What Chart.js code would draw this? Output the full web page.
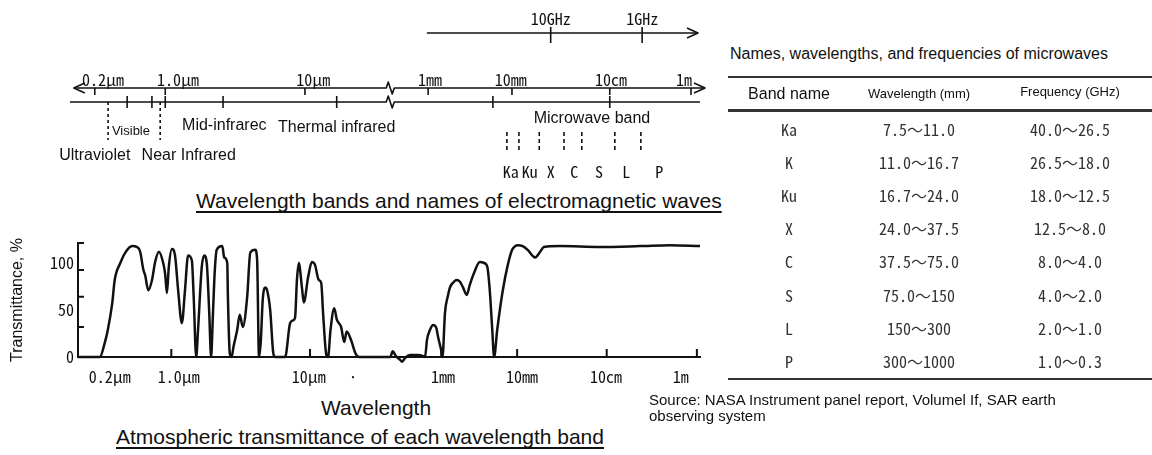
<!DOCTYPE html>
<html>
<head>
<meta charset="utf-8">
<title>Electromagnetic wave bands and atmospheric transmittance</title>
<script src="https://cdn.jsdelivr.net/npm/chart.js@4.4.1/dist/chart.umd.min.js"></script>
<style>
  html, body { margin: 0; padding: 0; background: #fff; }
  #page { position: relative; width: 1152px; height: 455px; overflow: hidden; color: #111;
          font-family: "Liberation Sans", Arial, sans-serif; }
  .abs { position: absolute; white-space: nowrap; }
  .title { font-size: 21px; line-height: 24px; text-decoration: underline; text-decoration-skip-ink: none;
           text-decoration-thickness: 2px; text-underline-offset: 3px; }
  #spectrum { position: absolute; left: 0; top: 0; }
  #trans { position: absolute; left: 0; top: 225px; }
  #bandTable { position: absolute; left: 728px; top: 76px; width: 424px;
               border-top: 2px solid #333; border-bottom: 2px solid #333; }
  .row { display: flex; height: 33.2px; align-items: center; }
  .row > div { text-align: center; }
  .head { height: 31px; border-bottom: 3px solid #333; color: #111; }
  .c1 { width: 122px; } .c2 { width: 138px; } .c3 { width: 164px; }
  .cell { font-family: "Noto Sans Mono CJK JP", "Noto Sans CJK JP", monospace; font-size: 16px; color: #333; }
</style>
</head>
<body>
<div id="page">
  <canvas id="spectrum" width="730" height="186"></canvas>
  <div class="abs title" style="left:196px; top:189px">Wavelength bands and names of electromagnetic waves</div>

  <canvas id="trans" width="730" height="170"></canvas>
  <div class="abs" style="left:321px; top:396px; font-size:21px; line-height:24px">Wavelength</div>
  <div class="abs title" style="left:116px; top:425px">Atmospheric transmittance of each wavelength band</div>

  <div class="abs" style="left:730px; top:44px; font-size:16px; line-height:19px">Names, wavelengths, and frequencies of microwaves</div>
  <div id="bandTable"></div>
  <div class="abs" style="left:649px; top:392px; font-size:15px; line-height:16px">Source: NASA Instrument panel report, Volumel If, SAR earth<br>observing system</div>
</div>

<script>
// =============================================================================
// Wavelength bands / atmospheric transmittance / microwave band table
// =============================================================================

const INK = "#111";
const CJK = '"Noto Sans Mono CJK JP", "Noto Sans CJK JP", monospace';
const SANS = '"Liberation Sans", Arial, sans-serif';

// ---------------------------------------------------------------------------
// Data: transmittance curve (x = position along the printed wavelength axis, 0-100)
// ---------------------------------------------------------------------------
const transPos = [
  0, 3.5, 4.3, 4.8, 5.5, 5.9, 6.8, 7.6, 8.7, 9.5, 10.0, 10.5, 10.8, 11.3, 11.9, 12.4,
  13.0, 13.7, 14.0, 14.3, 14.6, 15.1, 15.6, 16.1, 16.7, 17.2, 17.7, 18.3, 18.6, 19.0,
  19.3, 19.9, 20.3, 20.7, 21.1, 21.4, 21.7, 22.0, 22.3, 23.2, 23.5, 24.0, 24.1, 24.4,
  24.7, 25.0, 25.6, 26.0, 26.5, 27.2, 27.7, 28.5, 28.8, 29.1, 29.4, 29.7, 30.1, 30.4,
  30.9, 31.4, 31.7, 33.3, 34.1, 34.6, 34.9, 35.2, 35.5, 36.0, 36.3, 37.0, 37.6, 38.1,
  38.7, 39.1, 39.4, 39.9, 40.2, 40.6, 41.2, 41.6, 42.3, 42.8, 43.2, 43.9, 44.6, 45.2,
  50.2, 50.6, 51.1, 51.8, 52.1, 52.6, 53.4, 54.7, 55.5, 55.8, 56.1, 56.6, 57.1, 57.6,
  57.9, 58.4, 58.6, 59.0, 59.5, 59.8, 60.6, 60.9, 61.4, 61.9, 62.5, 63.0, 63.7, 64.6,
  65.3, 65.8, 66.2, 66.6, 66.9, 67.4, 68.3, 69.1, 69.8, 70.3, 70.7, 71.5, 72.3, 73.5,
  74.3, 74.9, 77.5, 83.9, 90.4, 95.2, 100
];
const transPct = [
  0, 0, 15, 29, 57, 82, 100, 111, 118, 117, 112, 93, 87, 71, 82, 101,
  112, 100, 89, 68, 96, 115, 108, 71, 36, 71, 108, 103, 64, 0,
  29, 96, 108, 100, 47, 0, 47, 93, 114, 118, 106, 100, 64, 4,
  0, 11, 29, 45, 32, 64, 111, 114, 103, 0, 18, 61, 74, 71,
  50, 4, 0, 0, 36, 39, 42, 82, 100, 74, 58, 85, 101, 98,
  82, 79, 47, 3, 0, 29, 52, 40, 32, 16, 27, 18, 4, 0,
  0, 6, 1, -3, -5, -1, 2, 2, 1, 0, 18, 29, 34, 31,
  21, 7, 0, 47, 66, 74, 81, 82, 80, 74, 66, 77, 90, 101,
  100, 96, 71, 29, 0, 29, 71, 98, 114, 118, 119, 118, 114, 106,
  112, 117, 118, 117, 118, 119, 118
];

const axisLabels = ["0.2μm", "1.0μm", "10μm", "·", "1mm", "10mm", "10cm", "1m"];
const axisLabelPos = [5.1, 16.2, 37.1, 44.2, 58.7, 71.4, 84.9, 96.9];
const axisTickPos = [15.0, 37.3, 58.4, 70.6, 85.0, 99.5];
const pctLabels = [0, 50, 100];
const pctTickMarks = [32, 64, 92.5, 121.3];
const pctMax = 121.3;

// ---------------------------------------------------------------------------
// Data: spectrum diagram (x = position along the diagram axis, 0-100)
// ---------------------------------------------------------------------------
const freqLabels = ["10GHz", "1GHz"];
const freqPos = [75.7, 90.1];
const freqSpan = [56.2, 98.9];

const spanLabels = ["0.2μm", "1.0μm", "10μm", "1mm", "10mm", "10cm", "1m"];
const spanLabelPos = [5.2, 17.0, 38.3, 56.7, 69.4, 85.2, 96.7];
const spanTickPos = [3.9, 15.0, 37.0, 56.4, 69.6, 85.0, 97.8];
const upperSpan = [0.6, 100];
const lowerSpan = [0, 99.2];
const axisBreakPos = 49.8;

const bandEdgePos = [9.0, 12.9, 15.0, 24.1, 42.0, 66.6, 85.0];
const visibleEdgePos = [6.0, 14.2];
const regionNames = ["Ultraviolet", "Visible", "Near Infrared", "Mid-infrarec", "Thermal infrared", "Microwave band"];
const regionPos = [3.9, 9.6, 18.7, 24.3, 42.0, 82.2];

const mwLetters = ["Ka", "Ku", "X", "C", "S", "L", "P"];
const mwLetterPos = [69.4, 72.4, 75.7, 79.4, 83.3, 87.6, 92.8];
const mwMarkPos = [68.8, 70.7, 73.9, 77.8, 80.6, 85.8, 89.9];

// ---------------------------------------------------------------------------
// Data: microwave band table
// ---------------------------------------------------------------------------
const bandNames = ["Ka", "K", "Ku", "X", "C", "S", "L", "P"];
const bandWavelength = ["7.5～11.0", "11.0～16.7", "16.7～24.0", "24.0～37.5", "37.5～75.0", "75.0～150", "150～300", "300～1000"];
const bandFrequency = ["40.0～26.5", "26.5～18.0", "18.0～12.5", "12.5～8.0", "8.0～4.0", "4.0～2.0", "2.0～1.0", "1.0～0.3"];

Chart.defaults.font.family = SANS;
Chart.defaults.color = INK;

// ---------------------------------------------------------------------------
// Spectrum diagram (drawn on the chart's x scale)
// ---------------------------------------------------------------------------
const regionRowY = [156, 131, 156, 126, 128, 119];
const regionSize = [16, 13, 16, 16, 16, 16];

const spectrumDiagram = {
  id: "spectrumDiagram",
  afterDraw(chart) {
    const { ctx } = chart;
    const px = v => chart.scales.x.getPixelForValue(v);
    const line = (x1, y1, x2, y2) => { ctx.beginPath(); ctx.moveTo(x1, y1); ctx.lineTo(x2, y2); ctx.stroke(); };
    const label = (s, x, y, font) => { ctx.font = font; ctx.fillText(s, x, y); };
    const arrow = (x, y, dir) => {
      ctx.beginPath();
      ctx.moveTo(x - 11 * dir, y - 5); ctx.lineTo(x, y); ctx.lineTo(x - 11 * dir, y + 5);
      ctx.stroke();
    };
    const broken = (span, y) => {
      const b = px(axisBreakPos);
      ctx.beginPath();
      ctx.moveTo(px(span[0]), y); ctx.lineTo(b, y);
      ctx.lineTo(b + 2, y - 6); ctx.lineTo(b + 6, y + 6); ctx.lineTo(b + 8, y);
      ctx.lineTo(px(span[1]), y);
      ctx.stroke();
    };

    ctx.save();
    ctx.strokeStyle = INK;
    ctx.fillStyle = INK;
    ctx.lineWidth = 1.6;
    ctx.lineJoin = "round";
    ctx.textAlign = "center";
    ctx.textBaseline = "middle";

    // frequency arrow
    line(px(freqSpan[0]), 33, px(freqSpan[1]), 33);
    arrow(px(freqSpan[1]), 33, 1);
    freqPos.forEach((v, i) => {
      line(px(v), 27, px(v), 43);
      label(freqLabels[i], px(v), 19, `16px ${CJK}`);
    });

    // wavelength axis (upper) with arrows both ways
    broken(upperSpan, 88);
    arrow(px(upperSpan[0]), 88, -1);
    arrow(px(upperSpan[1]), 88, 1);
    spanTickPos.forEach(v => line(px(v), 88, px(v), 95));
    spanLabels.forEach((s, i) => label(s, px(spanLabelPos[i]), 80, `16px ${CJK}`));

    // band boundary axis (lower)
    broken(lowerSpan, 102);
    bandEdgePos.forEach(v => line(px(v), 96, px(v), 108));
    ctx.setLineDash([3, 3]);
    visibleEdgePos.forEach(v => line(px(v), 102, px(v), 140));
    ctx.setLineDash([4, 3]);
    mwMarkPos.forEach(v => line(px(v), 132, px(v), 153));
    ctx.setLineDash([]);

    regionNames.forEach((s, i) => label(s, px(regionPos[i]), regionRowY[i], `${regionSize[i]}px ${SANS}`));
    mwLetters.forEach((s, i) => label(s, px(mwLetterPos[i]), 172, `16px ${CJK}`));
    ctx.restore();
  }
};

new Chart(document.getElementById("spectrum"), {
  type: "scatter",
  data: { datasets: [] },
  options: {
    responsive: false,
    animation: false,
    layout: { padding: { left: 70, right: 25, top: 0, bottom: 0 } },
    plugins: { legend: { display: false }, tooltip: { enabled: false } },
    scales: {
      x: { type: "linear", min: 0, max: 100, display: false },
      y: { type: "linear", min: 0, max: 1, display: false },
    }
  },
  plugins: [spectrumDiagram]
});

// ---------------------------------------------------------------------------
// Transmittance chart
// ---------------------------------------------------------------------------
const inwardTicks = {
  id: "inwardTicks",
  afterDatasetsDraw(chart) {
    const { ctx, chartArea: a, scales: { x, y } } = chart;
    ctx.save();
    ctx.strokeStyle = INK;
    ctx.lineWidth = 2;
    ctx.beginPath();
    axisTickPos.forEach(v => {
      const p = x.getPixelForValue(v);
      ctx.moveTo(p, a.bottom); ctx.lineTo(p, a.bottom - 8);
    });
    pctTickMarks.forEach(v => {
      const p = y.getPixelForValue(v);
      ctx.moveTo(a.left, p); ctx.lineTo(a.left + 6, p);
    });
    ctx.stroke();
    ctx.restore();
  }
};

new Chart(document.getElementById("trans"), {
  type: "line",
  data: {
    datasets: [{
      label: "Transmittance",
      data: transPos.map((x, i) => ({ x, y: transPct[i] })),
      borderColor: INK,
      borderWidth: 2.5,
      pointRadius: 0,
      cubicInterpolationMode: "monotone",
      fill: false,
      clip: false,
    }]
  },
  options: {
    responsive: false,
    animation: false,
    layout: { padding: { left: 0, right: 30, top: 18, bottom: 0 } },
    plugins: { legend: { display: false }, tooltip: { enabled: false } },
    scales: {
      x: {
        type: "linear", min: 0, max: 100,
        afterBuildTicks: s => { s.ticks = axisLabelPos.map(v => ({ value: v })); },
        afterFit: s => { s.height = 38; },
        ticks: {
          callback: (v, i) => axisLabels[i],
          autoSkip: false, maxRotation: 0, padding: 10,
          font: { family: CJK, size: 16 }, color: INK,
        },
        grid: { display: false, drawTicks: false },
        border: { display: true, color: INK, width: 2 },
      },
      y: {
        type: "linear", min: 0, max: pctMax,
        afterBuildTicks: s => { s.ticks = pctLabels.map(v => ({ value: v })); },
        afterFit: s => { s.width = 78; },
        ticks: { padding: 4, font: { family: CJK, size: 16 }, color: INK },
        grid: { display: false, drawTicks: false },
        border: { display: true, color: INK, width: 2 },
        title: {
          display: true, text: "Transmittance, %", color: INK,
          font: { family: SANS, size: 16 }, padding: { top: 8, bottom: 0 },
        },
      },
    }
  },
  plugins: [inwardTicks]
});

// ---------------------------------------------------------------------------
// Band table
// ---------------------------------------------------------------------------
document.getElementById("bandTable").innerHTML = `
  <div class="row head">
    <div class="c1" style="font-size:16px">Band name</div>
    <div class="c2" style="font-size:13px">Wavelength (mm)</div>
    <div class="c3" style="font-size:13px;position:relative;top:-2px">Frequency (GHz)</div>
  </div>` + bandNames.map((b, i) => `
  <div class="row cell">
    <div class="c1">${b}</div>
    <div class="c2">${bandWavelength[i]}</div>
    <div class="c3">${bandFrequency[i]}</div>
  </div>`).join("");
</script>
</body>
</html>
